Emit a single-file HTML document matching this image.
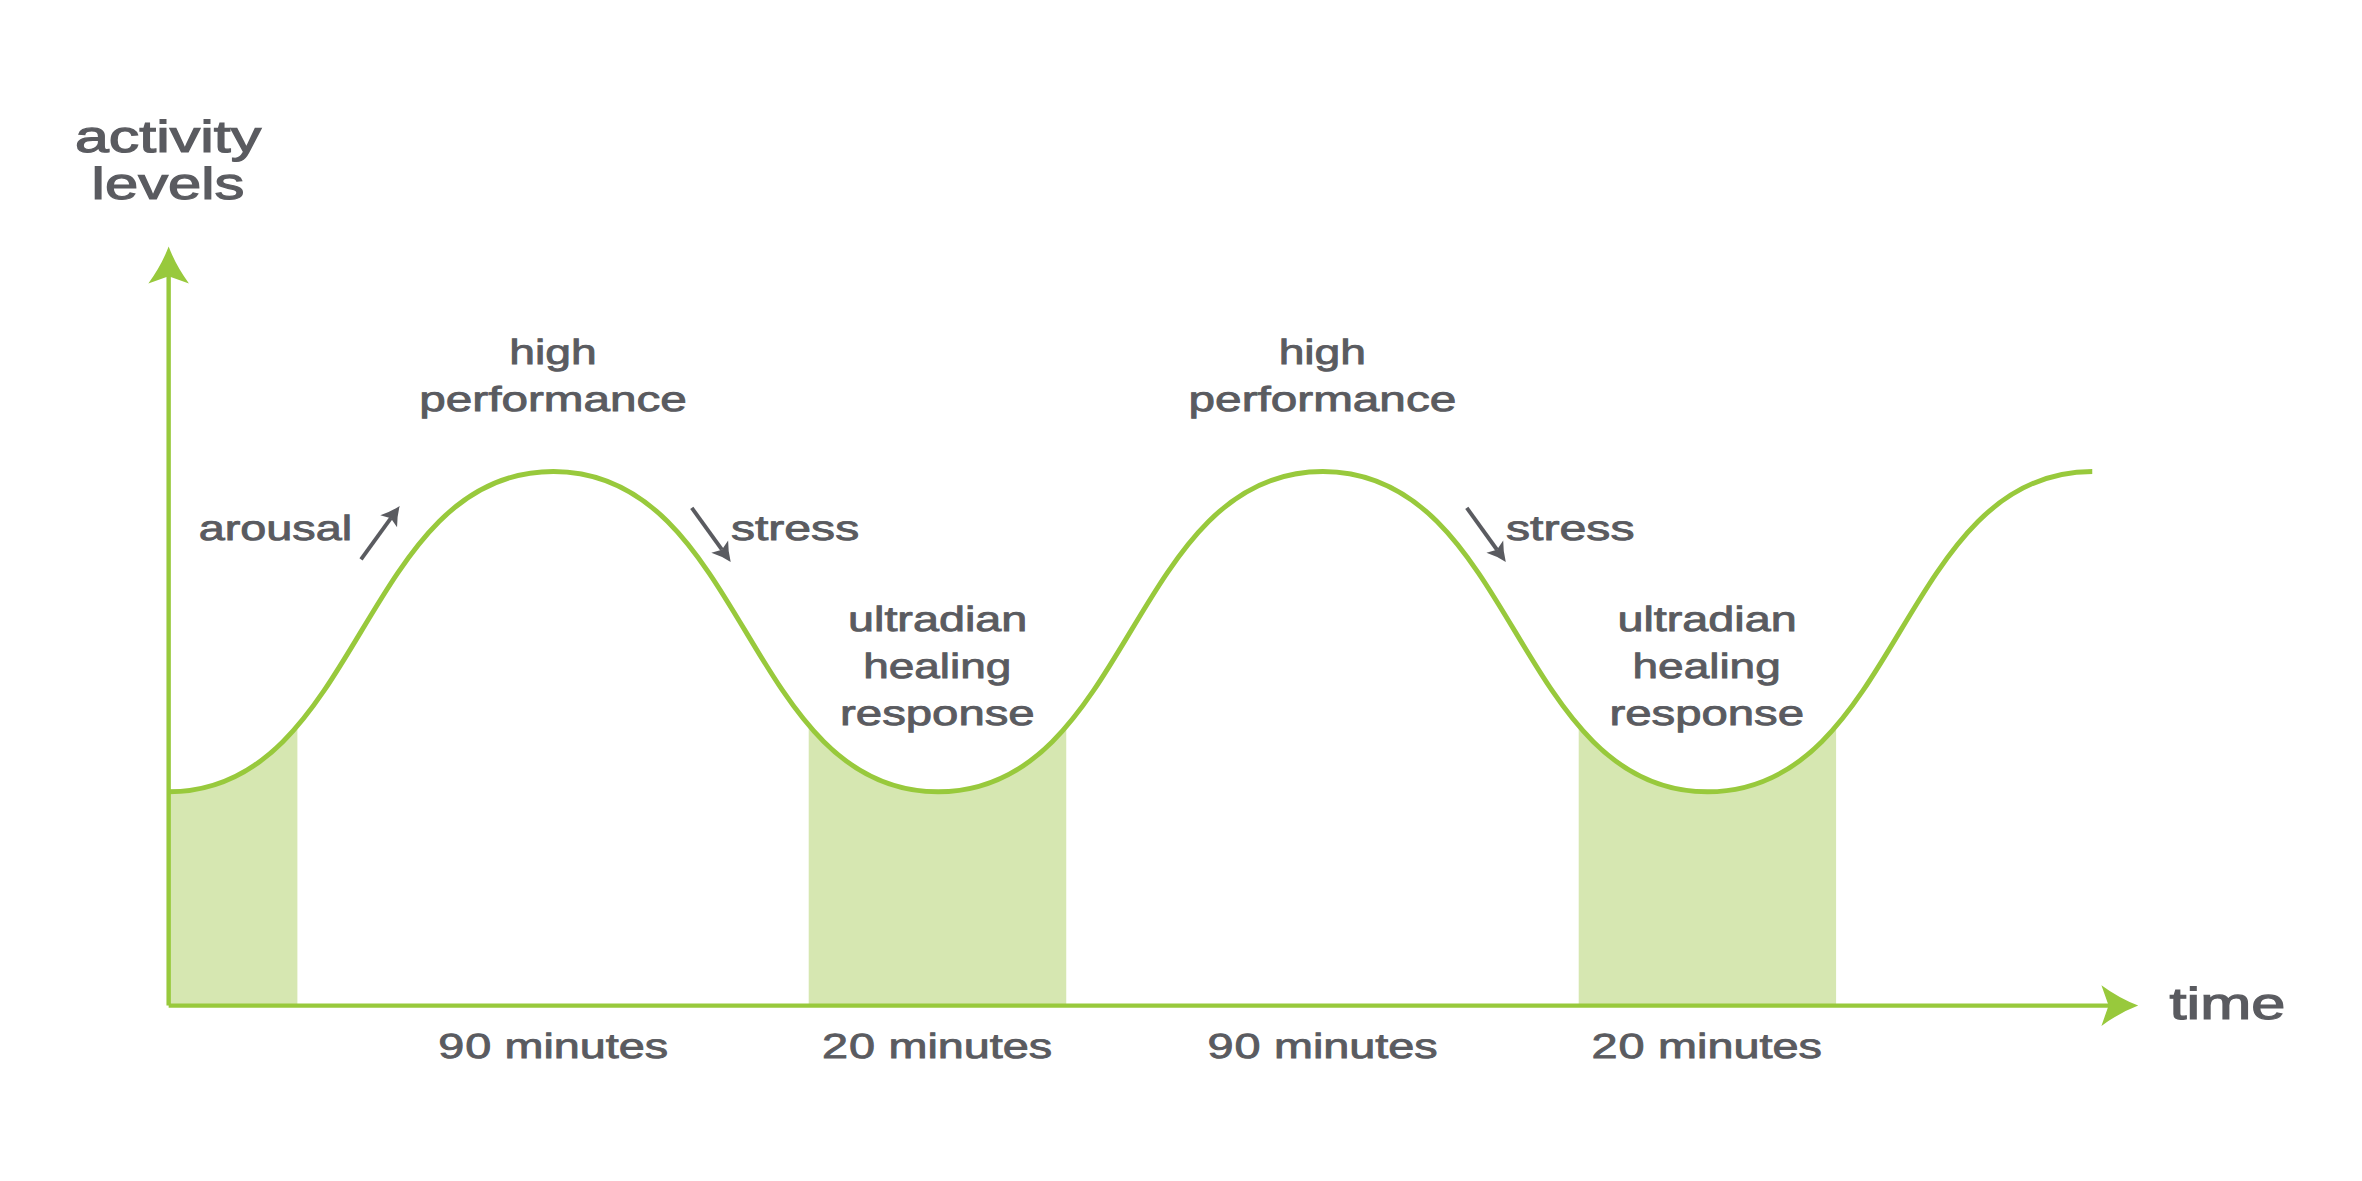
<!DOCTYPE html>
<html lang="en"><head><meta charset="utf-8"><title>Ultradian rhythm</title>
<style>html,body{margin:0;padding:0;background:#fff}body{width:2362px;height:1181px;overflow:hidden}svg{display:block}text{font-family:"Liberation Sans",sans-serif;fill:#5a5b60;stroke:#5a5b60;stroke-linejoin:miter;text-rendering:geometricPrecision}</style></head><body>
<svg width="2362" height="1181" viewBox="0 0 2362 1181">
<rect width="2362" height="1181" fill="#fff"/>
<defs><clipPath id="bands"><rect x="168.65" y="440" width="128.75" height="565.60"/><rect x="808.70" y="440" width="257.55" height="565.60"/><rect x="1578.70" y="440" width="257.40" height="565.60"/></clipPath></defs>
<path d="M168.65,791.80 C361.01,791.80 361.01,471.45 553.37,471.45 C745.73,471.45 745.73,791.80 938.09,791.80 C1130.45,791.80 1130.45,471.45 1322.81,471.45 C1515.17,471.45 1515.17,791.80 1707.53,791.80 C1899.89,791.80 1899.89,471.45 2092.25,471.45 V1005.60 H168.65 Z" fill="#d6e7b1" clip-path="url(#bands)"/>
<path d="M168.65,274 V1005.60" stroke="#98c93c" stroke-width="4.4" fill="none"/>
<path d="M168.65,1005.60 H2109" stroke="#98c93c" stroke-width="4.4" fill="none"/>
<path transform="translate(168.65,246.6) rotate(-90)" d="M0,0 Q-19.14,-7.31 -36.80,-20.30 L-29.60,0 L-36.80,20.30 Q-19.14,7.31 0,0 Z" fill="#98c93c"/>
<path transform="translate(2138.2,1005.60)" d="M0,0 Q-19.14,-7.31 -36.80,-20.30 L-29.60,0 L-36.80,20.30 Q-19.14,7.31 0,0 Z" fill="#98c93c"/>
<path d="M168.65,791.80 C361.01,791.80 361.01,471.45 553.37,471.45 C745.73,471.45 745.73,791.80 938.09,791.80 C1130.45,791.80 1130.45,471.45 1322.81,471.45 C1515.17,471.45 1515.17,791.80 1707.53,791.80 C1899.89,791.80 1899.89,471.45 2092.25,471.45" stroke="#98c93c" stroke-width="4.9" fill="none"/>
<path d="M361.00,559.40 L390.90,518.15" stroke="#5a5b60" stroke-width="3.9" fill="none"/><path transform="translate(399.70,506.00) rotate(-54.07)" d="M0,0 Q-9.76,-3.73 -18.77,-10.35 L-15.10,0 L-18.77,10.35 Q-9.76,3.73 0,0 Z" fill="#5a5b60"/>
<path d="M691.80,507.90 L721.93,549.73" stroke="#5a5b60" stroke-width="3.9" fill="none"/><path transform="translate(730.70,561.90) rotate(54.23)" d="M0,0 Q-9.76,-3.73 -18.77,-10.35 L-15.10,0 L-18.77,10.35 Q-9.76,3.73 0,0 Z" fill="#5a5b60"/>
<path d="M1466.80,507.90 L1497.02,549.74" stroke="#5a5b60" stroke-width="3.9" fill="none"/><path transform="translate(1505.80,561.90) rotate(54.16)" d="M0,0 Q-9.76,-3.73 -18.77,-10.35 L-15.10,0 L-18.77,10.35 Q-9.76,3.73 0,0 Z" fill="#5a5b60"/>
<text transform="translate(75.01,152.30) scale(1.3590,1)" font-size="44.8" stroke-width="1.2">activity</text>
<text transform="translate(91.62,199.25) scale(1.3344,1)" font-size="44.8" stroke-width="1.2">levels</text>
<text transform="translate(2169.49,1018.70) scale(1.3683,1)" font-size="44.8" stroke-width="1.2">time</text>
<text transform="translate(509.26,364.07) scale(1.3277,1)" font-size="34.8" stroke-width="0.85">high</text>
<text transform="translate(419.27,410.77) scale(1.3695,1)" font-size="34.8" stroke-width="0.85">performance</text>
<text transform="translate(1278.64,364.07) scale(1.3277,1)" font-size="34.8" stroke-width="0.85">high</text>
<text transform="translate(1188.60,410.77) scale(1.3701,1)" font-size="34.8" stroke-width="0.85">performance</text>
<text transform="translate(198.69,540.28) scale(1.3447,1)" font-size="34.8" stroke-width="0.85">arousal</text>
<text transform="translate(730.99,540.28) scale(1.3811,1)" font-size="34.8" stroke-width="0.85">stress</text>
<text transform="translate(1506.00,540.28) scale(1.3847,1)" font-size="34.8" stroke-width="0.85">stress</text>
<text transform="translate(848.02,630.98) scale(1.3425,1)" font-size="34.8" stroke-width="0.85">ultradian</text>
<text transform="translate(863.16,677.98) scale(1.3204,1)" font-size="34.8" stroke-width="0.85">healing</text>
<text transform="translate(840.11,724.78) scale(1.3591,1)" font-size="34.8" stroke-width="0.85">response</text>
<text transform="translate(1617.45,630.98) scale(1.3426,1)" font-size="34.8" stroke-width="0.85">ultradian</text>
<text transform="translate(1632.52,677.98) scale(1.3206,1)" font-size="34.8" stroke-width="0.85">healing</text>
<text transform="translate(1609.45,724.78) scale(1.3590,1)" font-size="34.8" stroke-width="0.85">response</text>
<text transform="translate(438.16,1058.48) scale(1.3435,1)" font-size="34.8" stroke-width="0.85" dx="0.00 0.75 0.00 0.26">90 minutes</text>
<text transform="translate(822.06,1058.48) scale(1.3434,1)" font-size="34.8" stroke-width="0.85" dx="0.00 0.75 0.00 0.32">20 minutes</text>
<text transform="translate(1207.51,1058.48) scale(1.3447,1)" font-size="34.8" stroke-width="0.85" dx="0.00 0.75 0.00 0.25">90 minutes</text>
<text transform="translate(1591.48,1058.48) scale(1.3451,1)" font-size="34.8" stroke-width="0.85" dx="0.00 0.75 0.00 0.34">20 minutes</text>
</svg></body></html>
